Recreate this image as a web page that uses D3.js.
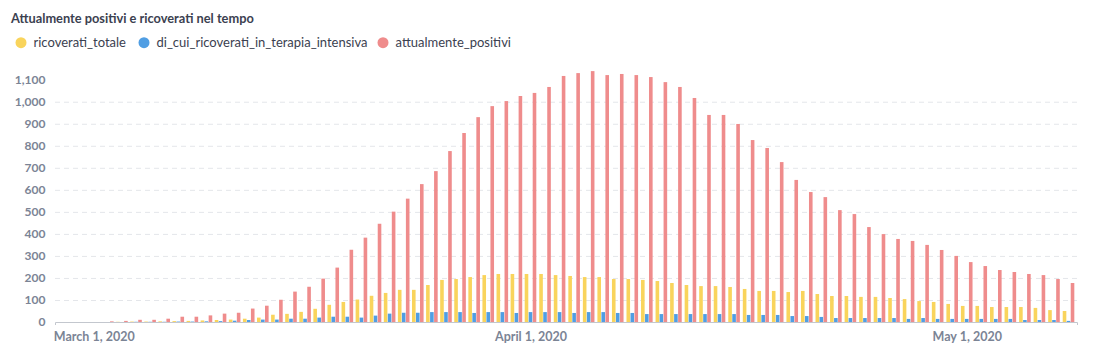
<!DOCTYPE html>
<html>
<head>
<meta charset="utf-8">
<script src="https://cdn.jsdelivr.net/npm/d3@7"></script>
<style>
  html, body { margin: 0; padding: 0; background: #fff; }
  svg { display: block; font-family: Lato, "Open Sans", sans-serif; }
</style>
</head>
<body>
<svg id="chart" width="1094" height="357"></svg>
<script>
// ---- data ----
const startDate = "2020-03-01";
const seriesNames = ["ricoverati_totale", "di_cui_ricoverati_in_terapia_intensiva", "attualmente_positivi"];
const ricoverati_totale = [
  0,0,1,2,2,3,4,5,7,9,11,15,20,33,37,46,60,78,91,102,119,132,146,146,168,191,195,204,213,218,218,
  218,218,213,209,204,204,195,195,191,186,177,168,163,163,159,150,141,141,136,141,127,118,118,114,114,109,104,95,91,82,
  73,73,68,68,68,64,54,50
];
const terapia_intensiva = [
  0,0,0,1,1,1,2,2,3,4,6,9,11,11,15,15,20,24,24,20,29,38,42,42,45,45,45,41,45,45,41,
  45,45,45,41,45,45,41,41,36,36,36,36,36,36,36,32,32,32,27,27,23,18,18,18,18,18,14,18,14,14,
  14,14,14,14,9,9,9,5
];
const attualmente_positivi = [
  0,3,5,10,10,15,24,24,30,38,42,61,74,101,138,160,197,247,328,383,446,501,560,626,685,776,858,930,980,1003,1026,
  1040,1067,1117,1130,1139,1121,1126,1121,1112,1089,1067,1017,940,940,899,826,790,726,645,590,567,508,490,431,399,377,368,350,327,300,
  272,254,236,227,218,213,195,177
];
const yTicks = [0,100,200,300,400,500,600,700,800,900,1000,1100];
const xTickDates = ["2020-03-01", "2020-04-01", "2020-05-01"];
const colors = ["#F9D45C", "#509EE3", "#EF8C8C"];

// ---- build ----
const parse = d3.utcParse("%Y-%m-%d");
const day0 = parse(startDate);
const dates = attualmente_positivi.map((_, i) => d3.utcDay.offset(day0, i));
const seriesValues = [ricoverati_totale, terapia_intensiva, attualmente_positivi];

const svg = d3.select("#chart");

const x = d3.scaleUtc()
  .domain([new Date(Date.UTC(2020,1,27,6)), parse("2020-04-01"), new Date(Date.UTC(2020,4,8,14))])
  .range([55, 530.5, 1077]);
const y = d3.scaleLinear().domain([0, 1100]).range([322, 79.7]);

// title
svg.append("text")
  .attr("x", 11).attr("y", 22.5)
  .attr("font-size", 12.8).attr("font-weight", 700)
  .attr("fill", "#3b4150")
  .text("Attualmente positivi e ricoverati nel tempo");

// legend
const legendX = [21, 144, 383];
const lg = svg.append("g");
seriesNames.forEach((n, i) => {
  lg.append("circle").attr("cx", legendX[i]).attr("cy", 42.7).attr("r", 5.5).attr("fill", colors[i]);
  lg.append("text").attr("x", legendX[i] + 12.5).attr("y", 47.3)
    .attr("font-size", 13).attr("fill", "#3b4150").text(n);
});

// grid
svg.append("g")
  .selectAll("line")
  .data(yTicks.filter(t => t > 0 && t < 1100))
  .join("line")
  .attr("x1", 55).attr("x2", 1077)
  .attr("y1", d => y(d) + 0.5).attr("y2", d => y(d) + 0.5)
  .attr("stroke", "#e4e6ea").attr("stroke-dasharray", "5,4");

// y axis
const yAxis = svg.append("g").attr("transform", "translate(55,0)")
  .call(d3.axisLeft(y).tickValues(yTicks).tickFormat(d3.format(",")).tickSize(0).tickPadding(9.5));
yAxis.select(".domain").remove();
yAxis.selectAll("text").attr("font-family", "Lato").attr("font-size", 12).attr("font-weight", 700).attr("fill", "#7b8495");

// bars
const offsets = [-4, 0, 4];
const bw = 3.6;
seriesValues.forEach((vals, si) => {
  svg.append("g").selectAll("rect")
    .data(vals.map((v, i) => ({ d: dates[i], v })).filter(o => o.v > 0))
    .join("rect")
    .attr("x", o => x(o.d) + offsets[si] - bw / 2)
    .attr("width", bw)
    .attr("y", o => y(o.v))
    .attr("height", o => y(0) - y(o.v))
    .attr("fill", colors[si]);
});

// x axis
const xAxis = svg.append("g").attr("transform", "translate(0,322)")
  .call(d3.axisBottom(x).tickValues(xTickDates.map(parse)).tickFormat(d3.utcFormat("%B %-d, %Y"))
    .tickSizeInner(0).tickSizeOuter(3).tickPadding(10));
xAxis.select(".domain").attr("stroke", "#c3c7ce");
xAxis.selectAll("text").attr("font-family", "Lato").attr("font-size", 12.5).attr("font-weight", 700).attr("fill", "#7b8495");
</script>
</body>
</html>
